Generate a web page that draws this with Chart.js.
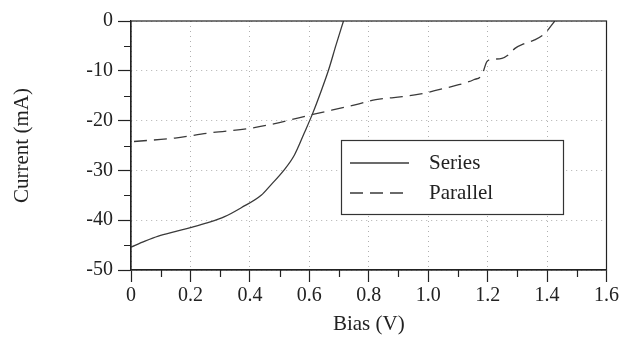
<!DOCTYPE html>
<html>
<head>
<meta charset="utf-8">
<script src="https://cdn.jsdelivr.net/npm/chart.js@4"></script>
<style>
    body { margin: 0; background: #fff; }
    #wrap { width: 621px; height: 343px; }
</style>
</head>
<body>
<div id="wrap"><canvas id="ivChart"></canvas></div>
<script>
// data
const seriesX = [0, 0.047, 0.092, 0.148, 0.2, 0.259, 0.315, 0.371, 0.438, 0.471, 0.514, 0.55, 0.583, 0.611, 0.639, 0.665, 0.69, 0.715];
const seriesY = [-45.4, -44.2, -43.2, -42.3, -41.5, -40.5, -39.3, -37.5, -35, -32.9, -30, -26.9, -22.5, -18.6, -14.2, -9.8, -4.8, 0];

const parallelX = [0.01, 0.148, 0.26, 0.405, 0.484, 0.54, 0.602, 0.757, 0.824, 0.913, 0.97, 1.036, 1.103, 1.153, 1.181, 1.198, 1.215, 1.248, 1.27, 1.292, 1.325, 1.358, 1.392, 1.426];
const parallelY = [-24.2, -23.5, -22.5, -21.5, -20.6, -19.8, -18.9, -16.8, -15.8, -15.2, -14.7, -13.8, -12.8, -11.8, -10.8, -8.1, -7.7, -7.5, -6.8, -5.5, -4.5, -3.8, -2.5, 0];

const xTickLabels = ["0", "0.2", "0.4", "0.6", "0.8", "1.0", "1.2", "1.4", "1.6"];
const yTickLabels = ["-50", "-40", "-30", "-20", "-10", "0"];
const xMinorTicks = [0.1, 0.3, 0.5, 0.7, 0.9, 1.1, 1.3, 1.5];
const yMinorTicks = [-45, -35, -25, -15, -5];

const ink = "#222";
const lineInk = "#3a3a3a";
const serif = "'Liberation Serif', 'Times New Roman', serif";

function toPoints(xs, ys) {
    return xs.map((x, i) => ({ x: x, y: ys[i] }));
}

// frame, minor ticks and the boxed legend inside the plot
const extras = {
    id: "extras",
    afterDraw(chart) {
        const ctx = chart.ctx;
        const area = chart.chartArea;
        const xs = chart.scales.x;
        const ys = chart.scales.y;
        ctx.save();
        ctx.strokeStyle = ink;
        ctx.lineWidth = 1.2;
        ctx.strokeRect(area.left, area.top, area.right - area.left, area.bottom - area.top);

        ctx.beginPath();
        xMinorTicks.forEach(v => {
            const px = Math.round(xs.getPixelForValue(v)) + 0.5;
            ctx.moveTo(px, area.bottom);
            ctx.lineTo(px, area.bottom + 7);
        });
        yMinorTicks.forEach(v => {
            const py = Math.round(ys.getPixelForValue(v)) + 0.5;
            ctx.moveTo(area.left, py);
            ctx.lineTo(area.left - 7, py);
        });
        ctx.stroke();

        // legend box
        const bx = area.left + 210, by = area.top + 119, bw = 222, bh = 74;
        ctx.fillStyle = "#fff";
        ctx.fillRect(bx, by, bw, bh);
        ctx.strokeStyle = "#333";
        ctx.lineWidth = 1.2;
        ctx.strokeRect(bx + 0.5, by + 0.5, bw, bh);

        ctx.font = "21px " + serif;
        ctx.textBaseline = "middle";
        ctx.textAlign = "left";
        chart.data.datasets.forEach((ds, i) => {
            const ly = by + 23 + i * 30;
            ctx.strokeStyle = ds.borderColor;
            ctx.lineWidth = ds.borderWidth;
            ctx.setLineDash(ds.borderDash || []);
            ctx.beginPath();
            ctx.moveTo(bx + 9, ly);
            ctx.lineTo(bx + 68, ly);
            ctx.stroke();
            ctx.setLineDash([]);
            ctx.fillStyle = ink;
            ctx.fillText(ds.label, bx + 88, ly);
        });
        ctx.restore();
    }
};

new Chart(document.getElementById("ivChart"), {
    type: "line",
    data: {
        datasets: [
            {
                label: "Series",
                data: toPoints(seriesX, seriesY),
                borderColor: lineInk,
                borderWidth: 1.3,
                pointRadius: 0,
                cubicInterpolationMode: "monotone",
                fill: false
            },
            {
                label: "Parallel",
                data: toPoints(parallelX, parallelY),
                borderColor: lineInk,
                borderWidth: 1.3,
                borderDash: [13, 7],
                pointRadius: 0,
                cubicInterpolationMode: "monotone",
                fill: false
            }
        ]
    },
    options: {
        responsive: true,
        maintainAspectRatio: false,
        animation: false,
        layout: { padding: { top: 21, right: 13, left: 0, bottom: 0 } },
        plugins: {
            legend: { display: false },
            tooltip: { enabled: false }
        },
        scales: {
            x: {
                type: "linear",
                min: 0,
                max: 1.6,
                afterFit: s => { s.height = 73; },
                ticks: {
                    stepSize: 0.2,
                    padding: 2,
                    color: ink,
                    maxRotation: 0,
                    font: { family: serif, size: 20 },
                    callback: (v, i) => xTickLabels[i]
                },
                grid: {
                    color: "#b0b0b0",
                    lineWidth: 1,
                    tickLength: 12,
                    tickColor: ink,
                    tickWidth: 1.2,
                    tickBorderDash: []
                },
                border: { color: ink, width: 1.2, dash: [1, 4] },
                title: {
                    display: true,
                    text: "Bias (V)",
                    color: ink,
                    font: { family: serif, size: 21 },
                    padding: { top: 0, bottom: 6 }
                }
            },
            y: {
                min: -50,
                max: 0,
                afterFit: s => { s.width = 131; },
                ticks: {
                    stepSize: 10,
                    padding: 5,
                    color: ink,
                    font: { family: serif, size: 20 },
                    callback: (v, i) => yTickLabels[i]
                },
                grid: {
                    color: "#b0b0b0",
                    lineWidth: 1,
                    tickLength: 13,
                    tickColor: ink,
                    tickWidth: 1.2,
                    tickBorderDash: []
                },
                border: { color: ink, width: 1.2, dash: [1, 4] },
                title: {
                    display: true,
                    text: "Current (mA)",
                    color: ink,
                    font: { family: serif, size: 21 },
                    padding: { top: 10, bottom: 0 }
                }
            }
        }
    },
    plugins: [extras]
});
</script>
</body>
</html>
